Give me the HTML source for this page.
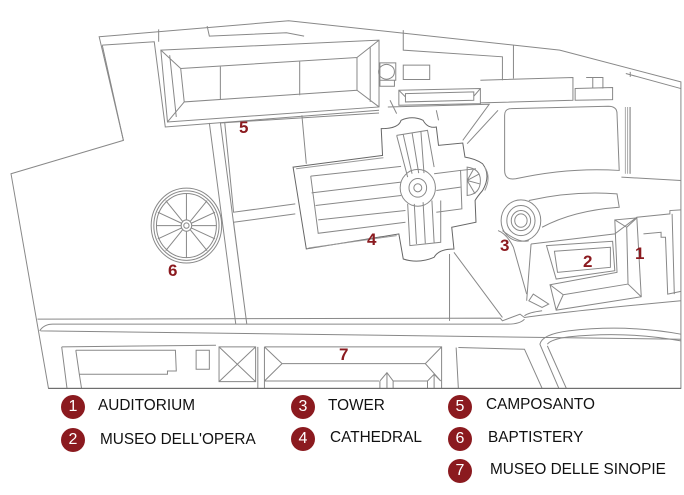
<!DOCTYPE html>
<html><head><meta charset="utf-8"><style>
html,body{margin:0;padding:0;background:#fff;}
#wrap{position:relative;width:684px;height:495px;overflow:hidden;background:#fff;font-family:"Liberation Sans",sans-serif;}
svg{position:absolute;left:0;top:0;}
.n{position:absolute;color:#8b1a1f;font-weight:bold;font-size:17px;}
.c{position:absolute;width:24px;height:24px;border-radius:50%;background:#8b1a1f;color:#fff;font-size:16px;line-height:24px;text-align:center;}
.t{position:absolute;font-size:16px;color:#111;transform:scaleX(0.96);transform-origin:left;}
</style></head><body><div id="wrap">
<svg width="684" height="390" viewBox="0 0 1552 1167" preserveAspectRatio="none" fill="none" stroke="#888" stroke-width="1">
<g>
<path vector-effect="non-scaling-stroke" d="M225,110 L655,62 L1270,150 L1545,245 L1545,1162 L110,1162 L25,520 L280,420 Z"/>
<path vector-effect="non-scaling-stroke" d="M232,135 L350,125 L375,380 L860,330 M232,135 L280,420"/>
<path vector-effect="non-scaling-stroke" d="M360,88 L360,125 M470,78 L475,108 L650,98 L690,108"/>
<path vector-effect="non-scaling-stroke" d="M915,90 L915,150 L1140,170 L1140,240 M1165,135 L1165,235 M1430,215 L1430,230 M1420,220 L1545,265"/>
<path vector-effect="non-scaling-stroke" d="M365,150 L860,120 L860,320 L380,365 Z M410,205 L810,172 L810,270 L418,305 Z M365,150 L410,205 M860,120 L810,172 M860,320 L810,270 M380,365 L418,305 M385,165 L400,350 M840,140 L840,305 M500,198 L500,298 M680,184 L680,285"/>
<path vector-effect="non-scaling-stroke" d="M862,188 L898,188 L898,240 L862,240 Z M895,215 A18,22 0 1,1 895,214.9 M915,195 L975,195 L975,238 L915,238 Z M862,240 L862,258 L895,258 L895,240"/>
<path vector-effect="non-scaling-stroke" d="M905,270 L1090,265 L1090,310 L905,315 Z M920,280 L1075,275 L1075,300 L920,305 Z M905,270 L920,290 M1090,265 L1075,288"/>
<path vector-effect="non-scaling-stroke" d="M1090,240 L1300,232 L1300,300 L1090,308 M1305,265 L1390,262 L1390,298 L1305,300 Z M1330,232 L1368,232 L1368,265 M1345,232 L1345,265"/>
<path vector-effect="non-scaling-stroke" d="M880,320 L1110,312 L1050,420 M1130,330 L1060,430 M990,330 L995,360 M900,340 L885,300"/>
<path vector-effect="non-scaling-stroke" d="M1160,325 L1380,318 Q1400,318 1400,340 L1405,510 Q1290,500 1170,535 Q1145,540 1145,510 L1145,345 Q1145,325 1160,325 Z M1430,320 L1430,520 M1410,530 L1545,540"/>
<path vector-effect="non-scaling-stroke" stroke="#aaa" d="M1424,320 L1424,520 M1419,320 L1419,520 M1429,320 L1429,520"/>
<path vector-effect="non-scaling-stroke" d="M475,368 L535,970 M500,366 L560,970 M510,368 L530,635 L670,610 M530,665 L670,640 M530,665 L560,970 M685,345 L695,490 M500,368 L860,338"/>
<path vector-effect="non-scaling-stroke" stroke="#666" d="M665,500 L868,465 L865,385 Q905,385 910,360 Q935,345 960,360 Q970,385 990,380 L995,435 L1050,428 L1055,470 Q1080,475 1095,490 Q1115,525 1095,570 Q1082,590 1078,600 L1080,665 L1025,680 L1030,745 Q995,745 985,770 Q950,790 915,775 L905,700 L695,745 Z"/>
<path vector-effect="non-scaling-stroke" stroke="#999" d="M672,505 L870,472 M700,742 L900,705 M1100,500 Q1115,530 1100,570"/>
<path vector-effect="non-scaling-stroke" d="M705,527 L910,498 M707,577 L910,545 M716,615 L910,585 M722,658 L920,630 M705,527 L722,698 L920,665 M985,520 L1045,510 L1048,625 L990,635 M990,570 L1045,560 M1045,510 L1080,505"/>
<path vector-effect="non-scaling-stroke" d="M900,405 L970,390 L985,500 M900,405 L925,530 M915,403 L935,520 M935,397 L950,518 M955,392 L962,518 M925,610 L930,735 L1000,725 L1000,600 M940,610 L945,730 M960,605 L965,728 M980,600 L985,726"/>
<ellipse vector-effect="non-scaling-stroke" cx="948" cy="562" rx="40" ry="55"/>
<ellipse vector-effect="non-scaling-stroke" cx="948" cy="562" rx="20" ry="28"/>
<ellipse vector-effect="non-scaling-stroke" cx="948" cy="562" rx="9" ry="12"/>
<path vector-effect="non-scaling-stroke" d="M1060,500 Q1090,505 1090,540 Q1090,580 1060,585 Z M1060,540 L1088,520 M1060,540 L1088,550 M1060,540 L1075,505 M1060,540 L1078,580"/>
<ellipse vector-effect="non-scaling-stroke" cx="1182" cy="660" rx="45" ry="62"/>
<ellipse vector-effect="non-scaling-stroke" cx="1182" cy="660" rx="32" ry="45"/>
<ellipse vector-effect="non-scaling-stroke" cx="1182" cy="660" rx="22" ry="30"/>
<ellipse vector-effect="non-scaling-stroke" cx="1182" cy="660" rx="14" ry="20"/>
<path vector-effect="non-scaling-stroke" d="M1200,600 Q1300,570 1400,580 L1405,620 Q1300,630 1230,680 M1130,690 Q1150,700 1165,740 L1195,880 M1140,690 Q1180,730 1200,720 M1030,755 L1140,950 M1020,760 L1020,960 M1200,900 L1230,920 L1245,910 L1210,880 Z"/>
<path vector-effect="non-scaling-stroke" d="M1205,730 L1395,700 L1445,650 L1520,640 L1520,630 L1545,628 M1205,730 L1195,900"/>
<path vector-effect="non-scaling-stroke" d="M1240,735 L1390,722 L1395,810 L1262,835 Z M1258,752 L1385,740 L1385,800 L1265,815 Z"/>
<path vector-effect="non-scaling-stroke" d="M1248,852 L1400,815 L1395,658 L1445,652 L1455,888 L1262,928 Z M1248,852 L1278,882 L1425,850 M1395,658 L1422,680 L1425,850 M1445,652 L1422,680 M1455,888 L1425,850 M1262,928 L1278,882"/>
<path vector-effect="non-scaling-stroke" d="M1460,700 L1500,695 L1500,710 L1510,710 L1515,880 L1545,872 M1525,640 L1530,880"/>
<path vector-effect="non-scaling-stroke" d="M85,955 L1135,952 L1140,960 L1180,940 L1190,950 Q1300,930 1545,900 M90,990 Q100,970 120,970 L1150,970 Q1180,970 1190,955 M92,990 L1545,1015 M1190,945 Q1200,935 1230,930"/>
<path vector-effect="non-scaling-stroke" d="M1225,1030 Q1230,1000 1290,990 Q1420,970 1545,1000 M1242,1030 Q1250,1015 1290,1008 Q1420,990 1545,1020 M1225,1030 L1268,1162 M1242,1035 L1285,1162"/>
<path vector-effect="non-scaling-stroke" d="M140,1038 L490,1033 M140,1038 L152,1162 M172,1048 L398,1048 L400,1110 L380,1110 L380,1120 L180,1120 L185,1162 M172,1048 L180,1120 M445,1048 L475,1048 L475,1105 L445,1105 Z M1040,1040 L1190,1045 L1230,1162 M1035,1040 L1040,1162"/>
<path vector-effect="non-scaling-stroke" d="M497,1038 L580,1038 L580,1142 L497,1142 Z M497,1038 L580,1142 M580,1038 L497,1142 M585,1038 L585,1162 M600,1038 L1002,1038 L1002,1162 M600,1038 L600,1162 M640,1088 L965,1088 M600,1038 L640,1088 L600,1140 M1002,1038 L965,1088 L1000,1140 M600,1140 L860,1140 M862,1140 L878,1115 L892,1140 L892,1162 M862,1140 L862,1162 M878,1115 L878,1162 M892,1140 L970,1140 L985,1120 L1000,1140 M970,1140 L970,1162 M985,1120 L985,1162"/>
<path vector-effect="non-scaling-stroke" stroke="#666" d="M110,1162 L1545,1162"/>
<ellipse vector-effect="non-scaling-stroke" cx="423" cy="675" rx="80" ry="112"/>
<ellipse vector-effect="non-scaling-stroke" cx="423" cy="675" rx="74" ry="104"/>
<ellipse vector-effect="non-scaling-stroke" cx="423" cy="675" rx="68" ry="96"/>
<ellipse vector-effect="non-scaling-stroke" cx="423" cy="675" rx="12" ry="17"/>
<ellipse vector-effect="non-scaling-stroke" cx="423" cy="675" rx="6" ry="8"/>
<path vector-effect="non-scaling-stroke" d="M423,658 L423,580 M423,692 L423,771 M411,675 L355,675 M435,675 L491,675 M432,662 L470,600 M414,662 L376,600 M432,688 L470,750 M414,688 L376,750 M434,668 L488,635 M412,668 L358,635 M434,682 L488,715 M412,682 L358,715"/>
</g></svg>
<div class="n" style="left:239px;top:118px">5</div>
<div class="n" style="left:367px;top:230px">4</div>
<div class="n" style="left:168px;top:261px">6</div>
<div class="n" style="left:500px;top:236px">3</div>
<div class="n" style="left:583px;top:252px">2</div>
<div class="n" style="left:635px;top:244px">1</div>
<div class="n" style="left:339px;top:345px">7</div>

<div class="c" style="left:61px;top:395px">1</div><div class="t" style="left:98px;top:397px">AUDITORIUM</div>
<div class="c" style="left:61px;top:428px">2</div><div class="t" style="left:100px;top:431px">MUSEO DELL'OPERA</div>
<div class="c" style="left:291px;top:395px">3</div><div class="t" style="left:328px;top:397px">TOWER</div>
<div class="c" style="left:291px;top:427px">4</div><div class="t" style="left:330px;top:429px">CATHEDRAL</div>
<div class="c" style="left:448px;top:395px">5</div><div class="t" style="left:486px;top:396px">CAMPOSANTO</div>
<div class="c" style="left:448px;top:427px">6</div><div class="t" style="left:488px;top:429px">BAPTISTERY</div>
<div class="c" style="left:448px;top:459px">7</div><div class="t" style="left:490px;top:461px">MUSEO DELLE SINOPIE</div>
</div></body></html>
